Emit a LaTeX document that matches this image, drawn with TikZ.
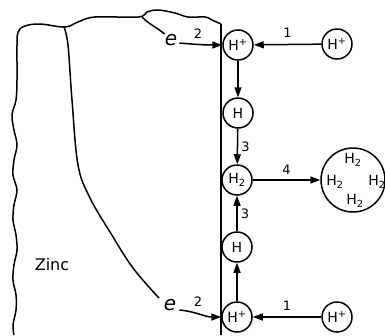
\documentclass[tikz,border=0pt]{standalone}
\usepackage{fontspec}
\setmainfont{DejaVu Sans}
\usetikzlibrary{arrows.meta}
\begin{document}
\begin{tikzpicture}[x=1pt,y=-1pt,
  atom/.style={draw,circle,line width=1.5pt,minimum size=30pt,inner sep=0pt,font=\fontsize{14}{15}\selectfont},
  arr/.style={line width=1.5pt,-{Triangle[length=10pt,width=7pt]}},
  outline/.style={line width=1.5pt},
  num/.style={inner sep=0pt,font=\fontsize{13}{14}\selectfont},
  elab/.style={inner sep=0pt,font=\fontsize{20}{21}\selectfont\itshape},
  mol/.style={inner sep=0pt,font=\fontsize{14}{15}\selectfont}]
\useasboundingbox (0,0) rectangle (385,335);
% zinc outline
\draw[outline] plot[smooth,tension=0.6] coordinates {(221,24) (212,20) (205,17) (188,17) (175,13) (158,10) (147,12) (138,17) (95,17) (78,22) (65,27) (40,24) (25,26) (18,32) (17,45) (17,80) (16,100) (12,115) (14,130) (17,145) (14,160) (13,175) (17,190) (14,205) (13,220) (16,235) (17,250) (14,265) (13,280) (16,295) (16,310) (13,325) (14,335)};
% surface
\draw[line width=1.1pt] (221,24) -- (221,335);
% grain boundary
\draw[outline] plot[smooth,tension=0.6] coordinates {(64,27) (68,45) (72,100) (78,165) (90,198) (110,232) (133,268) (159,298)};
% atoms
\node[atom] (hpA) at (238,45) {H\textsuperscript{+}};
\node[atom] (hpB) at (337,44) {H\textsuperscript{+}};
\node[atom] (hA) at (238,113) {H};
\node[atom] (h2) at (237,180) {H\textsubscript{2}};
\node[atom] (hB) at (237,247) {H};
\node[atom] (hpC) at (237,317) {H\textsuperscript{+}};
\node[atom] (hpD) at (337,317) {H\textsuperscript{+}};
\node[draw,circle,line width=1.5pt,minimum size=64pt,inner sep=0pt] (big) at (353,180) {};
\node[mol] (m1) at (353,160) {H\textsubscript{2}};
\node[mol] (m2) at (335,182) {H\textsubscript{2}};
\node[mol] (m3) at (377,182) {H\textsubscript{2}};
\node[mol] (m4) at (355,201) {H\textsubscript{2}};
% electrons
\node[elab] (eA) at (171,40) {e};
\node[elab] (eB) at (170,305) {e};
\coordinate (cA) at (142,17);
\draw[outline] (cA) to[out=-45,in=140] (eA.north west);
\draw[arr] (eA.east) ++(2,3) coordinate (sA) (sA) to[out=-5,in=180] (hpA.west);
\draw[arr] (eB.east) ++(3,5) coordinate (sB) (sB) to[out=-5,in=180] (hpC.west);
\node[num] (nA) at (198,34) {2};
\node[num] (nB) at (198,302) {2};
% arrows
\draw[arr] (hpB) -- (hpA) node[num,midway,above=6pt] (n1a) {1};
\draw[arr] (hpD) -- (hpC) node[num,midway,above=6pt] (n1b) {1};
\draw[arr] (hpA) -- (hA);
\draw[arr] (hA) -- (h2) node[num,midway,right=3pt] (n3a) {3};
\draw[arr] (hB) -- (h2) node[num,midway,right=3pt] (n3b) {3};
\draw[arr] (hpC) -- (hB);
\draw[arr] (h2) -- (big) node[num,midway,above=5pt] (n4) {4};
% label
\node[inner sep=0pt,font=\fontsize{16}{17}\selectfont] (zinc) at (52,265) {Zinc};
\end{tikzpicture}
\end{document}
